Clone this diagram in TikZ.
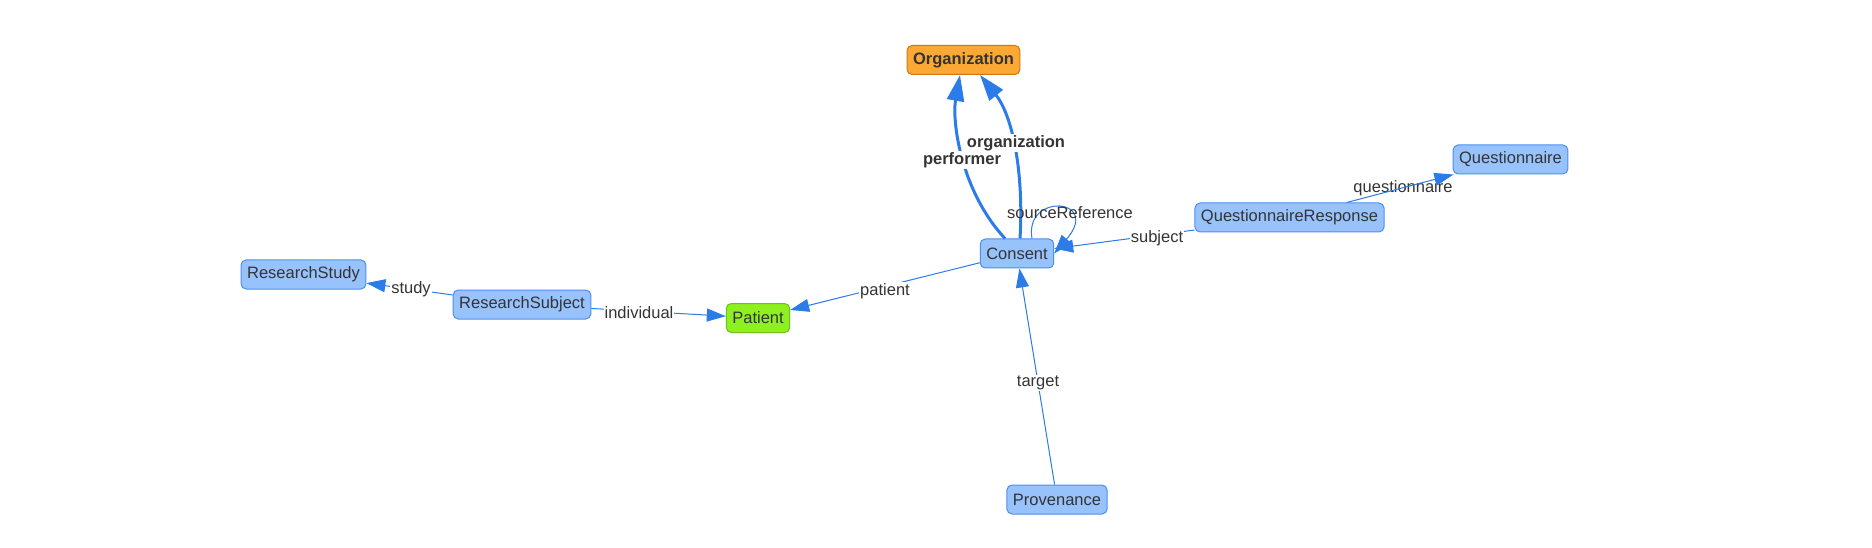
\documentclass[tikz,border=0pt]{standalone}
\usepackage{fontspec}
\setmainfont{Liberation Sans}
\usetikzlibrary{arrows.meta}
\definecolor{nodefill}{HTML}{97C2FC}
\definecolor{nodeborder}{HTML}{4D8FEF}
\definecolor{orgfill}{HTML}{FBA834}
\definecolor{orgborder}{HTML}{D2770E}
\definecolor{patfill}{HTML}{8FF01F}
\definecolor{patborder}{HTML}{6AC317}
\definecolor{edgec}{HTML}{2B7CE9}
\definecolor{textc}{HTML}{343434}
\tikzset{
  res/.style={draw=nodeborder, fill=nodefill, rounded corners=5pt, line width=1pt, minimum height=29pt, inner xsep=6pt, inner ysep=0pt, text=textc, font=\fontsize{16.5}{19}\selectfont},
  orgbox/.style={res, draw=orgborder, fill=orgfill, font=\fontsize{16.5}{19}\selectfont\bfseries},
  patbox/.style={res, draw=patborder, fill=patfill},
  ref/.style={draw=edgec, line width=1pt, -{Triangle[length=19pt,width=13pt]}},
  refthick/.style={draw=edgec, line width=3pt, -{Triangle[length=26pt,width=17pt]}},
  lbl/.style={text=textc, font=\fontsize{16.5}{19}\selectfont, fill=white, inner sep=1pt},
  lblb/.style={lbl, font=\fontsize{16.5}{19}\selectfont\bfseries},
  lblnf/.style={text=textc, font=\fontsize{16.5}{19}\selectfont, inner sep=1pt},
}
\begin{document}
\begin{tikzpicture}[x=1pt, y=-1pt]
\fill[white] (0,0) rectangle (1872,548);
\useasboundingbox (0,0) rectangle (1872,548);

\node[orgbox] (org) at (963.5,60) {Organization};
\node[res] (consent) at (1017,253.5) {Consent};
\node[res] (qr) at (1289.5,217.5) {QuestionnaireResponse};
\node[res] (quest) at (1510.5,159.5) {Questionnaire};
\node[res] (rstudy) at (303.5,274.5) {ResearchStudy};
\node[res] (rsubj) at (522,304.5) {ResearchSubject};
\node[patbox] (patient) at (758,318) {Patient};
\node[res] (prov) at (1057,499.5) {Provenance};

\draw[refthick] ([xshift=-12pt]consent.north) .. controls (960,190) and (952,120) .. ([xshift=-3.5pt]org.south);
\draw[refthick] ([xshift=3pt]consent.north) .. controls (1024,170) and (1012,115) .. ([xshift=16.5pt]org.south);
\draw[ref] ([xshift=15pt]consent.north) .. controls (1024,192) and (1102,198) .. (consent.east);
\draw[ref] (qr) -- (consent);
\draw[ref] (consent) -- (patient);
\draw[ref] (rsubj) -- (patient);
\draw[ref] (rsubj) -- (rstudy);
\draw[ref] (prov) -- (consent);

\node[lblb] (lperf) at (962,160) {performer};
\node[lblb] (lorg) at (1016,143) {organization};
\node[lblnf] (lsrc) at (1070,213) {sourceReference};
\node[lbl] (lsubj) at (1157,238) {subject};
\node[lblnf] (lquest) at (1403,188) {questionnaire};
\node[lbl] (lpat) at (885,291) {patient};
\node[lbl] (lind) at (639,313) {individual};
\node[lbl] (lstudy) at (411,289) {study};
\node[lbl] (ltarget) at (1038,383) {target};
\draw[ref] (qr) -- (quest);
\end{tikzpicture}
\end{document}
